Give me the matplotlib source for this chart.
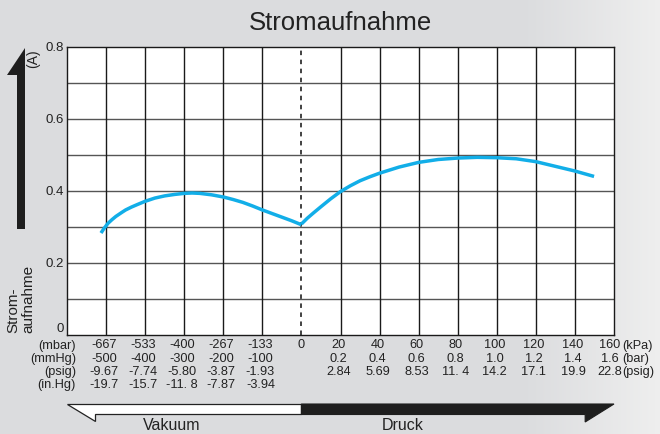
import numpy as np
import matplotlib
matplotlib.use("Agg")
import matplotlib.pyplot as plt
from matplotlib.transforms import blended_transform_factory
from matplotlib.patches import Polygon

plt.rcParams['font.family'] = ['Liberation Sans', 'DejaVu Sans']

# ---- data (x in grid index units: 0 = atmospheric pressure) ----
vac_x = [-5, -4, -3, -2, -1]
mbar_labels = ["-667", "-533", "-400", "-267", "-133"]
mmhg_labels = ["-500", "-400", "-300", "-200", "-100"]
psig_vac_labels = ["-9.67", "-7.74", "-5.80", "-3.87", "-1.93"]
inhg_labels = ["-19.7", "-15.7", "-11. 8", "-7.87", "-3.94"]

prs_x = [1, 2, 3, 4, 5, 6, 7, 8]
kpa_labels = ["20", "40", "60", "80", "100", "120", "140", "160"]
bar_labels = ["0.2", "0.4", "0.6", "0.8", "1.0", "1.2", "1.4", "1.6"]
psig_prs_labels = ["2.84", "5.69", "8.53", "11. 4", "14.2", "17.1", "19.9", "22.8"]

# current curve, vacuum side
vac_curve_x = [-5.13, -5.05, -4.95, -4.85, -4.75, -4.6, -4.5, -4.35, -4.2, -4.0, -3.75, -3.5, -3.25, -3.0,
               -2.8, -2.6, -2.3, -2.0, -1.75, -1.5, -1.25, -1.0, -0.75, -0.5, -0.25, 0.0]
vac_curve_y = [0.283, 0.296, 0.310, 0.320, 0.329, 0.340, 0.347, 0.355, 0.362, 0.371, 0.380, 0.386, 0.390, 0.393,
               0.394, 0.393, 0.389, 0.383, 0.376, 0.368, 0.358, 0.347, 0.337, 0.327, 0.317, 0.306]
# current curve, pressure side
prs_curve_x = [0.0, 0.15, 0.3, 0.5, 0.75, 1.0, 1.25, 1.5, 1.75, 2.0, 2.5, 3.0, 3.5, 4.0, 4.5, 5.0,
               5.5, 6.0, 6.5, 7.0, 7.49]
prs_curve_y = [0.308, 0.324, 0.338, 0.356, 0.378, 0.398, 0.414, 0.428, 0.439, 0.449, 0.466, 0.479, 0.487,
               0.491, 0.493, 0.492, 0.489, 0.481, 0.468, 0.455, 0.440]

yticks = [0, 0.2, 0.4, 0.6, 0.8]
ytick_labels = ["0", "0.2", "0.4", "0.6", "0.8"]

W, H = 660, 434
fig = plt.figure(figsize=(W / 100, H / 100), dpi=100)

# background gradient
bg = fig.add_axes([0, 0, 1, 1], zorder=-10)
bg.axis('off')
grad = np.linspace(0, 1, 256)
c_left = np.array([0.862, 0.866, 0.874])
c_right = np.array([0.935, 0.935, 0.935])
t = np.clip((grad - 0.80) / 0.20, 0, 1)
cols = c_left[None, :] * (1 - t[:, None]) + c_right[None, :] * t[:, None]
bg.imshow(cols[None, :, :], aspect='auto', extent=[0, 1, 0, 1])
bg.set_xlim(0, 1); bg.set_ylim(0, 1)

x0, x1 = 67, 614
ytop, ybot = 46.7, 335
ax = fig.add_axes([x0 / W, 1 - ybot / H, (x1 - x0) / W, (ybot - ytop) / H])
ax.set_facecolor('white')
ax.set_xlim(-6, 8)
ax.set_ylim(0, 0.8)

# grid
for yv in np.arange(0.1, 0.8, 0.1):
    ax.axhline(yv, color='#555555', lw=1.0, zorder=1)
for xv in vac_x + prs_x[:-1]:
    ax.axvline(xv, color='#1a1a1a', lw=1.0, zorder=1)
ax.axvline(0, color='#333333', lw=1.3, ls=(0, (2.5, 2.5)), zorder=1)
for s in ax.spines.values():
    s.set_color('#1a1a1a'); s.set_linewidth(1.0)

# curves
curve_col = '#12aee8'
ax.plot(vac_curve_x, vac_curve_y, color=curve_col, lw=2.5, solid_capstyle='butt',
        solid_joinstyle='round', zorder=3)
ax.plot(prs_curve_x, prs_curve_y, color=curve_col, lw=2.5, solid_capstyle='butt',
        solid_joinstyle='round', zorder=3)

ax.set_xticks([])
ax.set_yticks(yticks)
ax.set_yticklabels(ytick_labels, fontsize=9.5, color='#222222')
ax.tick_params(axis='y', length=0, pad=2)
ax.get_yticklabels()[0].set_va('bottom')

# x tick label rows
tr = blended_transform_factory(ax.transData, fig.transFigure)
rows_y = [345.5, 359, 372, 385]
fs = 9.2
def fy(px):
    return 1 - px / H

vac_rows = [mbar_labels, mmhg_labels, psig_vac_labels, inhg_labels]
for r, labels in enumerate(vac_rows):
    for xv, lab in zip(vac_x, labels):
        ax.text(xv - 0.05, fy(rows_y[r]), lab, transform=tr, ha='center', va='center', fontsize=fs, color='#222222')
ax.text(0, fy(rows_y[0]), "0", transform=tr, ha='center', va='center', fontsize=fs, color='#222222')
prs_rows = [kpa_labels, bar_labels, psig_prs_labels]
for r, labels in enumerate(prs_rows):
    for xv, lab in zip(prs_x, labels):
        dx = -0.1 if xv == 8 else -0.05
        ax.text(xv + dx, fy(rows_y[r]), lab, transform=tr, ha='center', va='center', fontsize=fs, color='#222222')

for r, lab in enumerate(["(mbar)", "(mmHg)", "(psig)", "(in.Hg)"]):
    fig.text(76 / W, fy(rows_y[r]), lab, ha='right', va='center', fontsize=fs, color='#222222')
for r, lab in enumerate(["(kPa)", "(bar)", "(psig)"]):
    fig.text(622 / W, fy(rows_y[r]), lab, ha='left', va='center', fontsize=fs, color='#222222')

# title
fig.text(340 / W, fy(22.5), "Stromaufnahme", ha='center', va='center', fontsize=18.5, color='#222222')

# y-axis label with arrow
arrow = Polygon([(25 / W, fy(48)), (7 / W, fy(75)), (17 / W, fy(75)), (17 / W, fy(229)),
                 (25 / W, fy(229))], closed=True, transform=fig.transFigure,
                facecolor='#1e1e1e', edgecolor='none')
fig.patches.append(arrow)
fig.text(33 / W, fy(59), "(A)", rotation=90, ha='center', va='center', fontsize=10, color='#222222')
fig.text(21 / W, fy(333), "Strom-\naufnahme", rotation=90, ha='center', va='bottom',
         multialignment='left', fontsize=11, linespacing=1.05, color='#222222')

# bottom direction arrows (x in data units, y in figure pixels)
px_per_unit = (x1 - x0) / 14.0
barb = 28 / px_per_unit
white = Polygon([(-6, fy(404)), (0, fy(404)), (0, fy(414)), (-6 + barb, fy(414)),
                 (-6 + barb, fy(420.5))], closed=True, transform=tr,
                facecolor='white', edgecolor='#222222', lw=0.9, clip_on=False)
black = Polygon([(0, fy(404)), (8, fy(404)), (8 - barb * 1.03, fy(422)), (8 - barb * 1.03, fy(414.5)),
                 (0, fy(414.5))], closed=True, transform=tr,
                facecolor='#1e1e1e', edgecolor='#1e1e1e', lw=0.8, clip_on=False)
ax.add_patch(white)
ax.add_patch(black)
fig.text(172 / W, fy(425), "Vakuum", ha='center', va='center', fontsize=11.5, color='#222222')
fig.text(403 / W, fy(425), "Druck", ha='center', va='center', fontsize=11.5, color='#222222')

fig.savefig("out.png", dpi=100)
